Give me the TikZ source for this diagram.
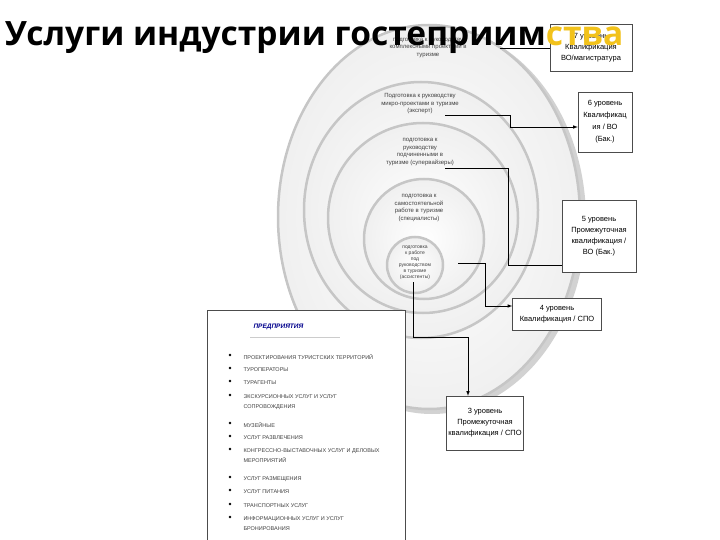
\documentclass[tikz,border=0pt]{standalone}
\usepackage{fontspec}
\setmainfont{Open Sans}
\newfontfamily\lib{Liberation Sans}
\definecolor{gold}{HTML}{F2C21B}
\begin{document}
\begin{tikzpicture}[x=1pt,y=-1pt,
  ring/.style={draw=gray!45,line width=2.5pt,inner color=white,outer color=gray!12},
  ctext/.style={font=\lib\fontsize{6}{7.5}\selectfont,align=center,text=black!75},
  lvl/.style={draw=black!70,fill=white,font=\lib\fontsize{7.5}{11}\selectfont,align=center,inner sep=2pt},
  conn/.style={draw=black,line width=0.6pt},
  arr/.style={conn,-latex},
  litem/.style={font=\lib\fontsize{5.5}{7}\selectfont,anchor=west,text=black!75,align=left}]
\useasboundingbox (0,0) rectangle (720,540);
% circles
\fill[gray!35] (432,220) ellipse [x radius=154, y radius=194];
\shade[ring] (429,217) ellipse [x radius=151, y radius=192];
\shade[ring] (421,210) ellipse [x radius=117, y radius=128];
\shade[ring] (423,218) circle (95);
\shade[ring] (424,239) circle (60);
\shade[ring] (415,265) circle (28);
\node[ctext] (c1) at (428,48) {подготовка к руководству\\комплексными проектами в\\туризме};
\node[ctext] (c2) at (420,104) {Подготовка к руководству\\микро-проектами в туризме\\(эксперт)};
\node[ctext] (c3) at (420,152) {подготовка к\\руководству\\подчиненными в\\туризме (супервайзеры)};
\node[ctext] (c4) at (419,208) {подготовка к\\самостоятельной\\работе в туризме\\(специалисты)};
\node[ctext,font=\lib\fontsize{5}{6}\selectfont] (c5) at (415,263) {подготовка\\к работе\\под\\руководством\\в туризме\\(ассистенты)};
% level boxes
\node[lvl,minimum width=82,minimum height=47] (l7) at (591,48) {7 уровень\\Квалификация\\ВО/магистратура};
\node[lvl,minimum width=54,minimum height=60,font=\lib\fontsize{7.5}{12}\selectfont] (l6) at (605,122) {6 уровень\\Квалификац\\ия / ВО\\(Бак.)};
\node[lvl,minimum width=74,minimum height=72] (l5) at (599,236) {5 уровень\\Промежуточная\\квалификация /\\ВО (Бак.)};
\node[lvl,minimum width=89,minimum height=32] (l4) at (557,314) {4 уровень\\Квалификация / СПО};
\node[lvl,minimum width=77,minimum height=54] (l3) at (485,423) {3 уровень\\Промежуточная\\квалификация / СПО};
% connectors
\coordinate (s1) at (500,48);
\coordinate (s2) at (445,115);
\coordinate (s3) at (445,168);
\coordinate (s4) at (458,263);
\coordinate (s5) at (413,282);
\draw[conn] (s1) -- (l7.west);
\draw[arr] (s2) -- (510,115) -- (510,127) -- (l6.west|-0,127);
\draw[conn] (s3) -- (508,168) -- (508,265) -- (l5.west|-0,265);
\draw[arr] (s4) -- (485,263) -- (485,306) -- (l4.west|-0,306);
\draw[arr] (s5) -- (413,337) -- (468,337) -- (l3.north-|468,0);
% list box
\node[draw=black!70,fill=white,minimum width=198,minimum height=240,anchor=north west,inner sep=0] (lst) at (207,310) {};
\node[font=\lib\itshape\bfseries\fontsize{6.5}{8}\selectfont,text=blue!55!black,anchor=west] (hd) at (250,327) {ПРЕДПРИЯТИЯ};
\draw[gray!40] (250,337) -- (340,337);
\foreach \y/\t in {355/ПРОЕКТИРОВАНИЯ ТУРИСТСКИХ ТЕРРИТОРИЙ,
  368/ТУРОПЕРАТОРЫ,
  381/ТУРАГЕНТЫ,
  395/{ЭКСКУРСИОННЫХ УСЛУГ И УСЛУГ\\[3pt]СОПРОВОЖДЕНИЯ},
  423/МУЗЕЙНЫЕ/КУЛЬТУРНО-ДОСУГОВОЙ СФЕРЫ,
  436/УСЛУГ РАЗВЛЕЧЕНИЯ,
  449/{КОНГРЕССНО-ВЫСТАВОЧНЫХ УСЛУГ И ДЕЛОВЫХ\\[3pt]МЕРОПРИЯТИЙ},
  477/УСЛУГ РАЗМЕЩЕНИЯ,
  490/УСЛУГ ПИТАНИЯ,
  504/ТРАНСПОРТНЫХ УСЛУГ,
  517/{ИНФОРМАЦИОННЫХ УСЛУГ И УСЛУГ\\[3pt]БРОНИРОВАНИЯ}}{
  \fill (230,\y) circle (1.3);
  \node[litem,anchor=north west] at (240,\y-4) {\t};
}
% title
\node[anchor=base west,inner sep=0,font=\bfseries\fontsize{33.5}{36}\selectfont] (title) at (5,46) {Услуги индустрии гостеприим\textcolor{gold}{ства}};
\end{tikzpicture}
\end{document}
